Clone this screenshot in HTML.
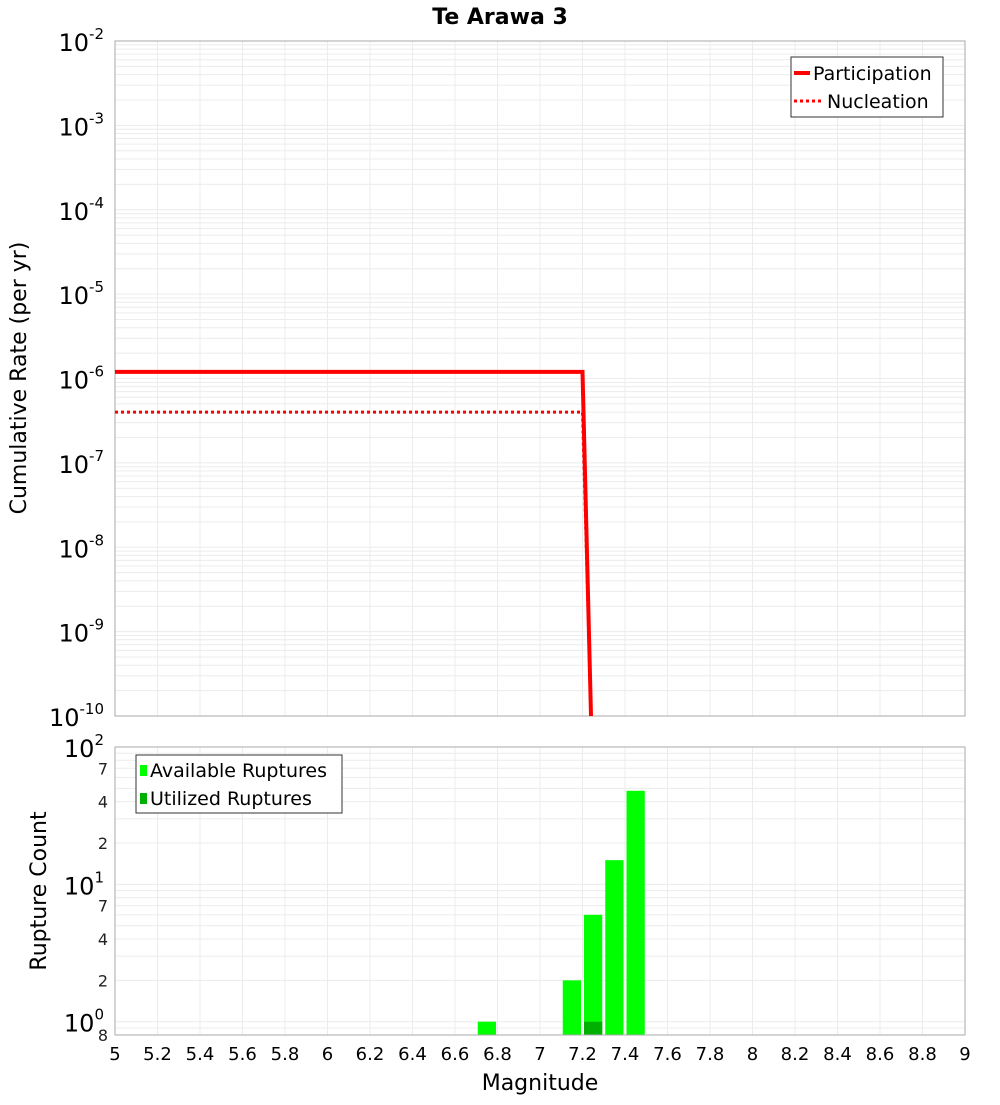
<!DOCTYPE html>
<html><head><meta charset="utf-8"><style>
body{margin:0;background:#fff;font-family:"Liberation Sans","DejaVu Sans",sans-serif}
svg text{font-family:"DejaVu Sans","Liberation Sans",sans-serif}
</style></head><body>
<svg id="c" width="1000" height="1100" xmlns="http://www.w3.org/2000/svg"></svg>
<script>
const partMags=[5.0,7.2,7.24];
const partRates=[1.2e-6,1.2e-6,1e-10];
const nuclMags=[5.0,7.2,7.24];
const nuclRates=[4e-7,4e-7,1e-10];
const binCenters=[6.75,7.15,7.25,7.35,7.45];
const availCounts=[1,2,6,15,48];
const usedCounts=[0,0,1,0,0];
const xTicks=[5,5.2,5.4,5.6,5.8,6,6.2,6.4,6.6,6.8,7,7.2,7.4,7.6,7.8,8,8.2,8.4,8.6,8.8,9];
const topExps=[-2,-3,-4,-5,-6,-7,-8,-9,-10];

const S=document.getElementById('c'),NS='http://www.w3.org/2000/svg';
function el(t,a,p){const e=document.createElementNS(NS,t);for(const k in a)e.setAttribute(k,a[k]);(p||S).appendChild(e);return e;}
const X0=115,X1=965,xs=m=>X0+(m-5)/4*(X1-X0);
const T0=41,T1=716,ty=v=>T0+(-2-Math.log10(v))/8*(T1-T0);
const B0=747,B1=1035,lb=Math.log10(0.8),by=v=>B1-(Math.log10(v)-lb)/(2-lb)*(B1-B0);

// title
let t=el('text',{x:500,y:24,'text-anchor':'middle','font-size':22,'font-weight':'bold'});t.textContent='Te Arawa 3';


// top grid
const g1=el('g',{});
for(let e=-10;e<-2;e++)for(let k=1;k<10;k++){const y=ty(k*Math.pow(10,e));el('line',{x1:X0,x2:X1,y1:y,y2:y,stroke:'#ececec','stroke-width':1},g1);}
xTicks.forEach(m=>el('line',{x1:xs(m),x2:xs(m),y1:T0,y2:T1,stroke:'#ececec'},g1));
const f1=el('rect',{x:X0,y:T0,width:X1-X0,height:T1-T0,fill:'none',stroke:'#aaa'});

topExps.forEach(e=>{const tt=el('text',{x:104,y:ty(Math.pow(10,e))+10,'text-anchor':'end','font-size':24});
tt.innerHTML='10<tspan dy="-12" font-size="15">'+e+'</tspan>';
});
t=el('text',{x:26,y:378,'text-anchor':'middle','font-size':22,transform:'rotate(-90 26 378)'});t.textContent='Cumulative Rate (per yr)';


const clip=el('clipPath',{id:'cp'});el('rect',{x:X0,y:T0,width:X1-X0,height:T1-T0},clip);
let p=el('polyline',{points:partMags.map((m,i)=>xs(m)+','+ty(partRates[i])).join(' '),fill:'none',stroke:'#f00','stroke-width':4,'clip-path':'url(#cp)'});

p=el('polyline',{points:nuclMags.map((m,i)=>xs(m)+','+ty(nuclRates[i])).join(' '),fill:'none',stroke:'#f00','stroke-width':3,'stroke-dasharray':'3,3','clip-path':'url(#cp)'});


// top legend
const lg=el('g',{});
el('rect',{x:791,y:57,width:152,height:60,fill:'#fff',stroke:'#333'},lg);
el('line',{x1:794,x2:810,y1:73,y2:73,stroke:'#f00','stroke-width':4},lg);
el('line',{x1:794,x2:822,y1:101,y2:101,stroke:'#f00','stroke-width':3,'stroke-dasharray':'3,3'},lg);
t=el('text',{x:813,y:80,'font-size':19},lg);t.textContent='Participation';
t=el('text',{x:827,y:108,'font-size':19},lg);t.textContent='Nucleation';

// bottom grid
const g2=el('g',{});
[0.8,0.9,1,2,3,4,5,6,7,8,9,10,20,30,40,50,60,70,80,90].forEach(v=>{const y=by(v);el('line',{x1:X0,x2:X1,y1:y,y2:y,stroke:'#ececec'},g2);});
xTicks.forEach(m=>el('line',{x1:xs(m),x2:xs(m),y1:B0,y2:B1,stroke:'#ececec'},g2));
const bw=(xs(0.1)-xs(0))-3;
binCenters.forEach((m,i)=>{
 const r=el('rect',{x:xs(m)-bw/2,y:by(availCounts[i]),width:bw,height:B1-by(availCounts[i]),fill:'#00ff00'});
 
 if(usedCounts[i]>0){const u=el('rect',{x:xs(m)-bw/2,y:by(usedCounts[i]),width:bw,height:B1-by(usedCounts[i]),fill:'#00b000'});
 }
});
const f2=el('rect',{x:X0,y:B0,width:X1-X0,height:B1-B0,fill:'none',stroke:'#aaa'});

[[100,2],[10,1],[1,0]].forEach(([v,e])=>{const tt=el('text',{x:104,y:by(v)+10,'text-anchor':'end','font-size':24});
tt.innerHTML='10<tspan dy="-12" font-size="15">'+e+'</tspan>';});
[[70,'7'],[40,'4'],[20,'2'],[7,'7'],[4,'4'],[2,'2'],[0.8,'8']].forEach(([v,s])=>{const tt=el('text',{x:108,y:by(v)+6,'text-anchor':'end','font-size':16,fill:'#222'});
tt.textContent=s;});
t=el('text',{x:46,y:891,'text-anchor':'middle','font-size':22,transform:'rotate(-90 46 891)'});t.textContent='Rupture Count';

xTicks.forEach(m=>{const tt=el('text',{x:xs(m),y:1060,'text-anchor':'middle','font-size':18});tt.textContent=String(m);
});
t=el('text',{x:540,y:1090,'text-anchor':'middle','font-size':22});t.textContent='Magnitude';


// bottom legend
const lg2=el('g',{});
el('rect',{x:136,y:755,width:206,height:58,fill:'#fff',stroke:'#333'},lg2);
el('rect',{x:140,y:765,width:7,height:11,fill:'#00ff00'},lg2);
el('rect',{x:140,y:793,width:7,height:11,fill:'#00b000'},lg2);
t=el('text',{x:150,y:777,'font-size':19},lg2);t.textContent='Available Ruptures';
t=el('text',{x:150,y:805,'font-size':19},lg2);t.textContent='Utilized Ruptures';
</script>
</body></html>
